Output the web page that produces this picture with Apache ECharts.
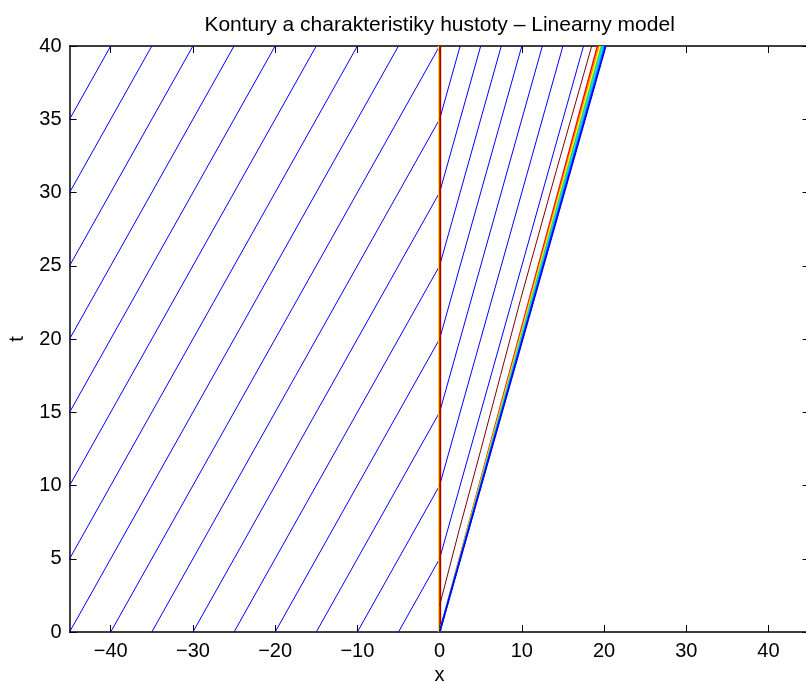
<!DOCTYPE html>
<html>
<head>
<meta charset="utf-8">
<script src="https://cdn.jsdelivr.net/npm/echarts@6/dist/echarts.min.js"></script>
<style>
  html, body { margin: 0; padding: 0; background: #fff; }
  #chart { width: 806px; height: 682px; }
</style>
</head>
<body>
<div id="chart"></div>
<script>
const xTicks = [-40, -30, -20, -10, 0, 10, 20, 30, 40]

// characteristics (blue) as [x, t] vertices
const characteristics = [
  [[-45, 35], [-40, 40]],
  [[-45, 30], [-35, 40]],
  [[-45, 25], [-30, 40]],
  [[-45, 20], [-25, 40]],
  [[-45, 15], [-20, 40]],
  [[-45, 10], [-15, 40]],
  [[-45, 5], [-10, 40]],
  [[-45, 0], [-5, 40]],
  [[-40, 0], [0, 40]],
  [[-35, 0], [0, 35], [2.5, 40]],
  [[-30, 0], [0, 30], [5, 40]],
  [[-25, 0], [0, 25], [7.5, 40]],
  [[-20, 0], [0, 20], [10, 40]],
  [[-15, 0], [0, 15], [12.5, 40]],
  [[-10, 0], [0, 10], [15, 40]],
  [[-5, 0], [0, 5], [17.5, 40]],
  [[0, 0], [20.2, 40]],
]

// density contour lines
const contourVertYellow = [[-0.12, 0], [-0.12, 40]]
const contourVertRed = [[0.02, 0], [0.02, 40]]
const contourVertDark = [[0.12, 0], [0.12, 40]]
const contourDarkRed = [[0, 1.8], [2.4, 7], [5, 12.4], [7.4, 17.5], [9.85, 22.7], [14.2, 31.5], [18.5, 40]]
const contourRed = [[0, 0], [19.2, 40]]
const contourOrange = [[0, 0], [19.38, 40]]
const contourYellow = [[0, 0], [19.54, 40]]
const contourGreen = [[0, 0], [19.7, 40]]
const contourCyan = [[0, 0], [19.86, 40]]
const contourLightBlue = [[0, 0], [20.02, 40]]
const contourBlue = [[0, 0], [20.2, 40]]

const contours = [
  { data: contourVertYellow, color: '#e8e800', width: 1.2 },
  { data: contourVertDark, color: '#800000', width: 1.2 },
  { data: contourVertRed, color: '#e00000', width: 1.2 },
  { data: contourDarkRed, color: '#800000', width: 1 },
  { data: contourRed, color: '#ff0000', width: 1.5 },
  { data: contourOrange, color: '#ff8000', width: 1.5 },
  { data: contourYellow, color: '#ffff00', width: 1.5 },
  { data: contourGreen, color: '#40d040', width: 1.5 },
  { data: contourCyan, color: '#00e0ff', width: 1.5 },
  { data: contourLightBlue, color: '#0090ff', width: 1.5 },
  { data: contourBlue, color: '#0000ff', width: 1.8 },
]

const fmt = v => String(v).replace('-', '\u2212')
const font = 'Liberation Sans, Arial, Helvetica, sans-serif'

const series = []
for (const c of characteristics) {
  series.push({
    type: 'line', data: c, showSymbol: false, silent: true, clip: true,
    lineStyle: { color: '#0000ff', width: 1 },
  })
}
for (const c of contours) {
  series.push({
    type: 'line', data: c.data, showSymbol: false, silent: true, clip: true,
    lineStyle: { color: c.color, width: c.width },
  })
}

const tickStyle = { inside: true, length: 7, lineStyle: { color: '#000', width: 1 } }
const lineStyle = { show: true, onZero: false, lineStyle: { color: '#000', width: 1.5 } }
const labelFont = { fontFamily: font, fontSize: 20, color: '#000' }

const chart = echarts.init(document.getElementById('chart'))
chart.setOption({
  animation: false,
  backgroundColor: '#fff',
  grid: { left: 69.6, top: 46, width: 740, height: 586, outerBoundsMode: 'none', containLabel: false },
  graphic: [{
    type: 'text', x: 439.6, y: 25,
    style: {
      text: 'Kontury a charakteristiky hustoty \u2013 Linearny model',
      font: '21px ' + font, fill: '#000', textAlign: 'center', textVerticalAlign: 'middle',
    },
  }],
  xAxis: [{
    type: 'value', min: -45, max: 45, position: 'bottom',
    name: 'x', nameLocation: 'middle', nameGap: 31,
    nameTextStyle: labelFont,
    axisLine: lineStyle,
    axisTick: { ...tickStyle, customValues: xTicks },
    axisLabel: { customValues: xTicks, formatter: fmt, ...labelFont, margin: 9 },
    splitLine: { show: false },
  }, {
    type: 'value', min: -45, max: 45, position: 'top',
    axisLine: lineStyle,
    axisTick: { ...tickStyle, customValues: xTicks },
    axisLabel: { show: false },
    splitLine: { show: false },
  }],
  yAxis: [{
    type: 'value', min: 0, max: 40, interval: 5, position: 'left',
    name: 't', nameLocation: 'middle', nameGap: 42, nameRotate: 90,
    nameTextStyle: labelFont,
    axisLine: lineStyle,
    axisTick: tickStyle,
    axisLabel: { ...labelFont, margin: 8 },
    splitLine: { show: false },
  }, {
    type: 'value', min: 0, max: 40, interval: 5, position: 'right',
    axisLine: lineStyle,
    axisTick: tickStyle,
    axisLabel: { show: false },
    splitLine: { show: false },
  }],
  series,
})
</script>
</body>
</html>
